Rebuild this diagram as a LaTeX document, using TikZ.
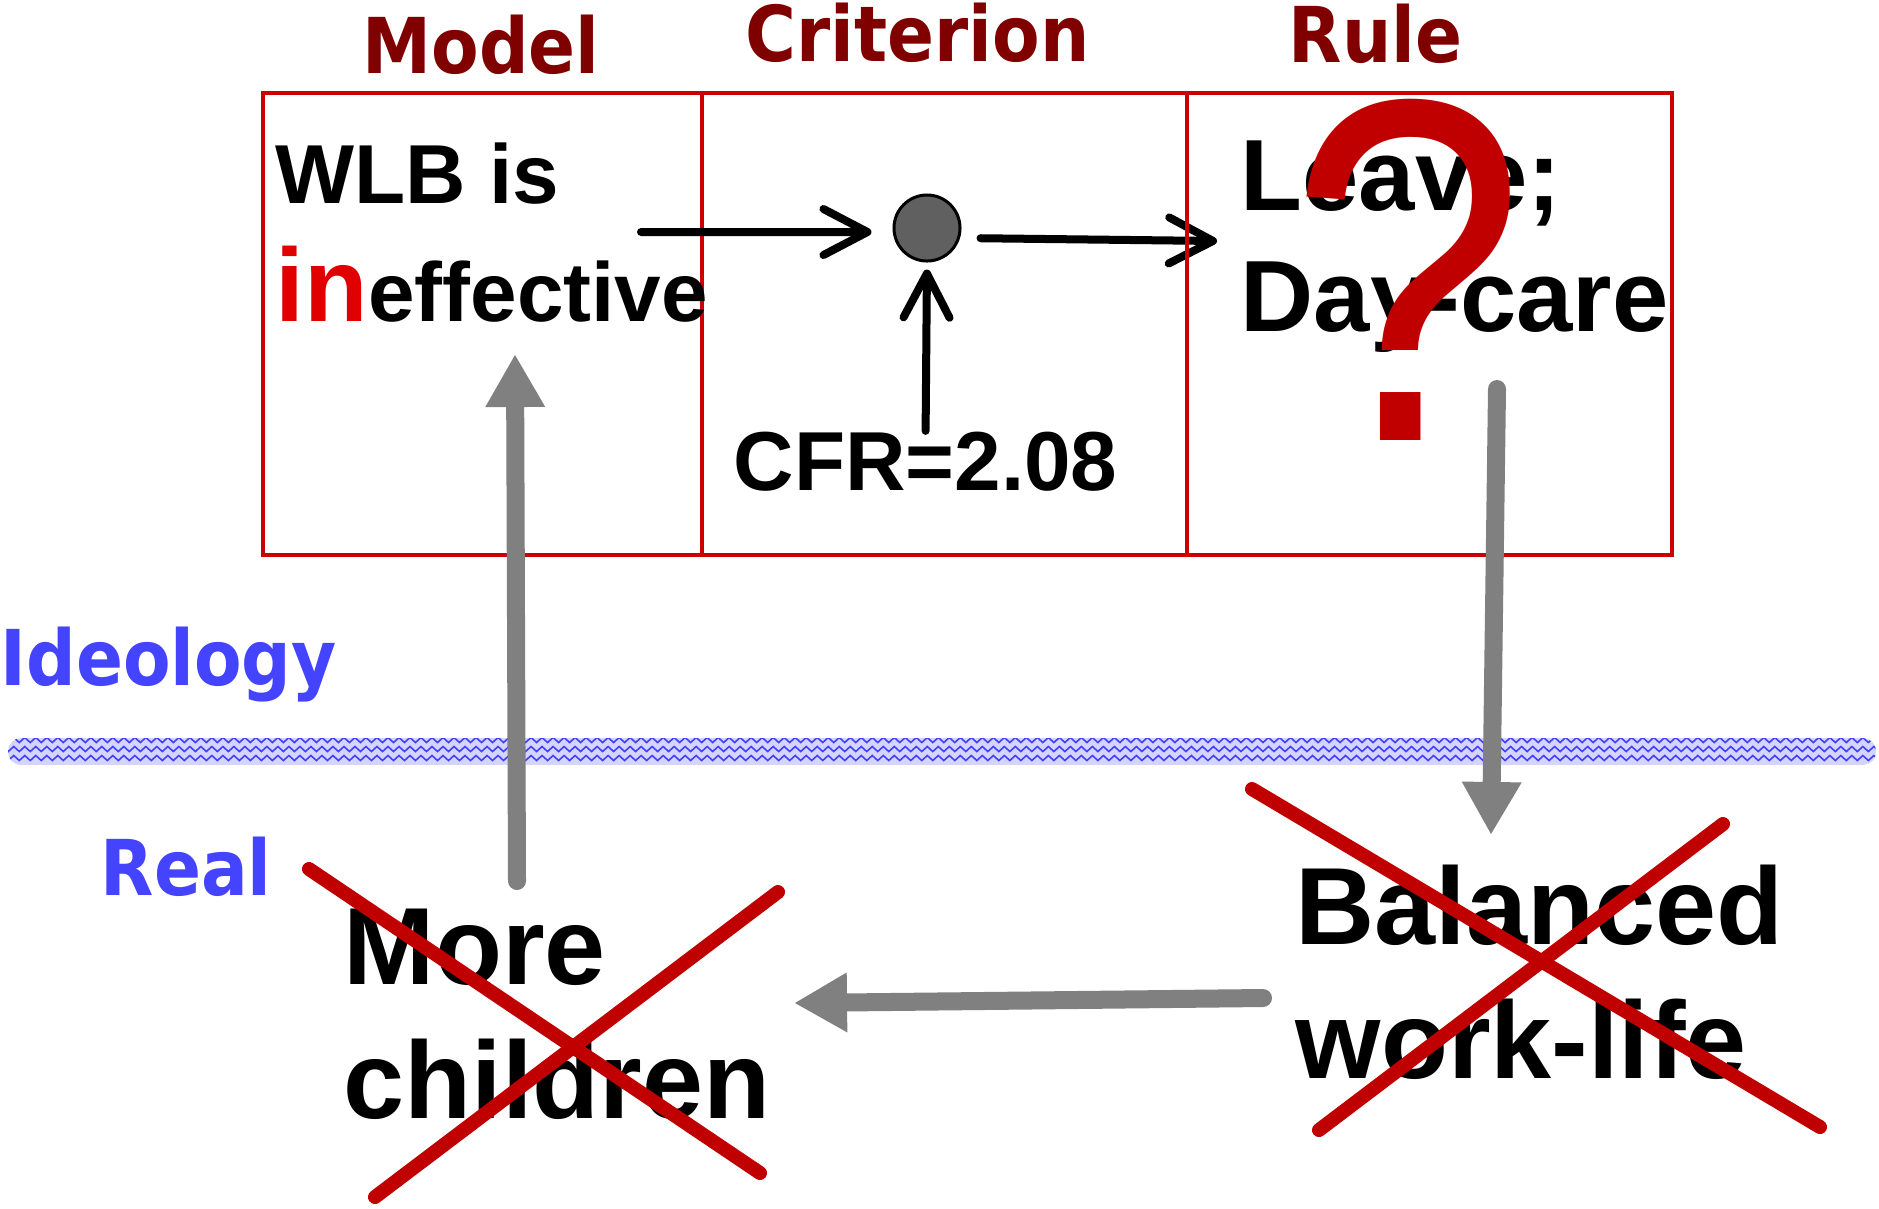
\documentclass[tikz,border=0pt]{standalone}
\usepackage{fontspec}
\setmainfont{Liberation Sans}
\newfontfamily\headfont{DejaVu Sans Condensed}
\usetikzlibrary{arrows.meta,decorations.pathmorphing}
\definecolor{headred}{HTML}{800000}
\definecolor{boxred}{HTML}{CC0000}
\definecolor{inred}{HTML}{E00000}
\definecolor{crossred}{HTML}{C00000}
\definecolor{labblue}{HTML}{4444FF}
\definecolor{bandfill}{HTML}{D4D4FF}
\definecolor{zigblue}{HTML}{4040FF}
\definecolor{arrowgray}{HTML}{808080}
\definecolor{dotgray}{HTML}{606060}
\tikzset{
  head/.style={anchor=base west,inner sep=0pt,text=headred,
    font=\headfont\bfseries\fontsize{21.9pt}{26pt}\selectfont},
  side/.style={head,text=labblue},
  body/.style={anchor=base west,inner sep=0pt,align=left,
    font=\bfseries\fontsize{23.8pt}{33.3pt}\selectfont},
  rulebody/.style={body,font=\bfseries\fontsize{28.8pt}{34.4pt}\selectfont},
  big/.style={body,font=\bfseries\fontsize{31.2pt}{38pt}\selectfont},
  qmark/.style={anchor=base,inner sep=0pt,text=crossred,
    font=\fontsize{139pt}{139pt}\selectfont},
  crit/.style={circle,draw=black,fill=dotgray,line width=0.03cm,
    minimum size=0.66cm,inner sep=0pt},
  blackarrow/.style={line width=0.08cm,line cap=round,
    -{Straight Barb[length=0.44cm,width=0.46cm,round]}},
  grayarrow/.style={arrowgray,line width=0.18cm,line cap=round,
    -{Triangle[length=0.52cm,width=0.6cm,line width=0pt]}},
  cross/.style={crossred,line width=0.14cm,line cap=round},
  zig/.style={zigblue,line width=0.45pt,decorate,
    decoration={zigzag,segment length=0.11cm,amplitude=0.025cm}}
}
\begin{document}
\begin{tikzpicture}[x=0.01cm,y=-0.01cm]
    \useasboundingbox (0,0) rectangle (1879,1208);
    %% band between ideology and real
    \begin{scope}
        \clip[rounded corners=0.13cm] (8,738) rectangle (1876,765);
        \fill[bandfill] (8,738) rectangle (1876,765);
        \foreach \y in {740,749,758}
            \draw[zig] (0,\y) -- (1879,\y);
    \end{scope}
    %% criterion dot and its arrows
    \node[crit] (crit) at (927,228) {};
    \coordinate (ruletip) at (1217,241);
    \draw[blackarrow,shorten <=0.19cm] ([yshift=-0.1cm]crit.east) -- (ruletip);
    %% table
    \draw[boxred,line width=0.035cm] (263,93) rectangle (1672,555);
    \draw[boxred,line width=0.035cm] (702,93) -- (702,555);
    \draw[boxred,line width=0.035cm] (1187,93) -- (1187,555);
    \node[head] (model) at (362,73) {Model};
    \node[head] (criterion) at (745,61) {Criterion};
    \node[head] (rule) at (1288,62) {Rule};
    %% cells (base = last line)
    \node[body] (wlb) at (275,321)
        {WLB is\\{\color{inred}\fontsize{29.6pt}{33.3pt}\selectfont in}effective};
    \node[body] (cfr) at (733,490) {CFR=2.08};
    \node[rulebody] (leave) at (1240,331) {Leave;\\Day-care};
    \node[qmark] (qm) at (1408,440) {\scalebox{0.87}[1]{?}};
    \coordinate (wlbtail) at (641,232);
    \draw[blackarrow,shorten >=0.21cm] (wlbtail) -- ([yshift=-0.04cm]crit.west);
    \draw[blackarrow,shorten >=0.07cm] (cfr.north) -- (crit.south);
    %% ideology / real
    \node[side] (ideology) at (0,685) {Ideology};
    \node[side] (real) at (100,895) {Real};
    \node[big] (more) at (343,1118) {More\\children};
    \node[big] (balanced) at (1295,1078) {Balanced\\work-life};
    %% gray loop
    \coordinate (moretop) at (517,881);
    \coordinate (ineffbot) at (515,355);
    \coordinate (daybot) at (1497,389);
    \coordinate (baltop) at (1491,834);
    \coordinate (balwest) at (1263,998);
    \coordinate (moreeast) at (795,1003);
    \draw[grayarrow] (moretop) -- (ineffbot);
    \draw[grayarrow] (daybot) -- (baltop);
    \draw[grayarrow] (balwest) -- (moreeast);
    %% crossed out
    \draw[cross] (309,869) -- (760,1173);
    \draw[cross] (778,892) -- (375,1197);
    \draw[cross] (1252,789) -- (1820,1127);
    \draw[cross] (1723,824) -- (1319,1130);
\end{tikzpicture}
\end{document}
